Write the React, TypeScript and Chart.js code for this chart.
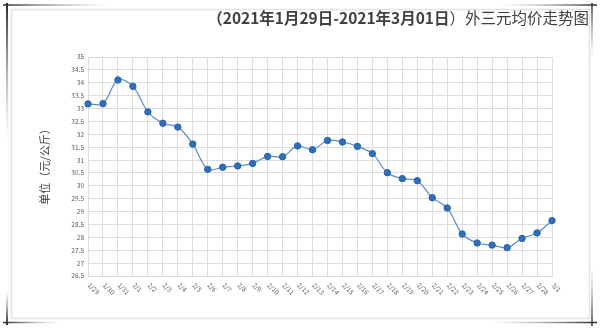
import React, { useEffect, useRef } from "react";
import { Chart, registerables } from "chart.js";

Chart.register(...registerables);

const categories = [
  "1/29", "1/30", "1/31", "2/1", "2/2", "2/3", "2/4", "2/5", "2/6", "2/7", "2/8",
  "2/9", "2/10", "2/11", "2/12", "2/13", "2/14", "2/15", "2/16", "2/17", "2/18",
  "2/19", "2/20", "2/21", "2/22", "2/23", "2/24", "2/25", "2/26", "2/27", "2/28", "3/1",
];

const prices = [
  33.18, 33.19, 34.11, 33.86, 32.87, 32.43, 32.28, 31.62, 30.64, 30.72, 30.77,
  30.87, 31.14, 31.13, 31.55, 31.4, 31.76, 31.7, 31.53, 31.25, 30.51,
  30.28, 30.2, 29.54, 29.14, 28.13, 27.78, 27.7, 27.6, 27.96, 28.17, 28.65,
];

const titleBold = "（2021年1月29日-2021年3月01日";
const titleRegular = "）外三元均价走势图";
const yTitle = "单位（元/公斤）";

const Y_MIN = 26.5;
const Y_MAX = 35;
const Y_STEP = 0.5;

const FONT = '"Noto Sans CJK SC", "Noto Sans", sans-serif';

const decorPlugin = {
  id: "decor",
  beforeDraw(chart: any) {
    const ctx = chart.ctx as CanvasRenderingContext2D;
    ctx.save();
    ctx.fillStyle = "#ffffff";
    ctx.fillRect(0, 0, chart.width, chart.height);
    ctx.strokeStyle = "#e3e3e3";
    ctx.lineWidth = 1.5;
    ctx.strokeRect(11.5, 9.5, 578, 309);

    const line = (x1: number, y1: number, x2: number, y2: number, w: number) => {
      const g = ctx.createLinearGradient(x1, y1, x2, y2);
      g.addColorStop(0, "rgba(40,40,40,1)");
      g.addColorStop(0.35, "rgba(90,90,90,0.7)");
      g.addColorStop(1, "rgba(160,160,160,0)");
      ctx.strokeStyle = g;
      ctx.lineWidth = w;
      ctx.beginPath();
      ctx.moveTo(x1, y1);
      ctx.lineTo(x2, y2);
      ctx.stroke();
    };
    line(3, 5, 110, 5, 1.5);
    line(7, 3, 7, 140, 2);
    line(597, 5, 500, 5, 1.5);
    line(592, 3, 592, 60, 1.5);
    line(3, 322.5, 60, 322.5, 1.5);
    line(7, 325, 7, 290, 2);
    line(597, 322.5, 490, 322.5, 1.5);
    line(592, 326, 592, 265, 1.5);
    ctx.restore();
  },
  afterDraw(chart: any) {
    const ctx = chart.ctx as CanvasRenderingContext2D;
    const xScale = chart.scales.x;
    const area = chart.chartArea;
    ctx.save();
    ctx.textBaseline = "middle";
    ctx.fillStyle = "#404040";
    ctx.font = `15.5px ${FONT}`;
    const wReg = ctx.measureText(titleRegular).width;
    ctx.font = `bold 15.5px ${FONT}`;
    const wBold = ctx.measureText(titleBold).width;
    const right = 589;
    ctx.textAlign = "left";
    ctx.fillText(titleBold, right - wReg - wBold, 18);
    ctx.font = `15.5px ${FONT}`;
    ctx.fillText(titleRegular, right - wReg, 18);

    ctx.save();
    ctx.translate(45, 164);
    ctx.rotate(-Math.PI / 2);
    ctx.textAlign = "center";
    ctx.textBaseline = "middle";
    ctx.font = `11px ${FONT}`;
    ctx.fillStyle = "#404040";
    ctx.fillText(yTitle, 0, 0);
    ctx.restore();

    ctx.font = `6.5px ${FONT}`;
    ctx.fillStyle = "#595959";
    ctx.textAlign = "left";
    ctx.textBaseline = "middle";
    categories.forEach((c, i) => {
      const x = xScale.getPixelForValue(i);
      ctx.save();
      ctx.translate(x + 1, area.bottom + 8);
      ctx.rotate(Math.PI / 4);
      ctx.fillText(c, 0, 0);
      ctx.restore();
    });
    ctx.restore();
  },
};

export default function App() {
  const ref = useRef<HTMLCanvasElement | null>(null);
  useEffect(() => {
    if (!ref.current) return;
    const chart = new Chart(ref.current, {
      type: "line",
      data: {
        labels: categories,
        datasets: [
          {
            data: prices,
            borderColor: "#5a8ccc",
            borderWidth: 1.2,
            backgroundColor: "#2f6eba",
            pointBackgroundColor: "#2f6eba",
            pointBorderColor: "#2a62a8",
            pointBorderWidth: 1,
            pointRadius: 3.2,
            tension: 0.35,
            fill: false,
          },
        ],
      },
      options: {
        animation: false,
        responsive: false,
        maintainAspectRatio: false,
        layout: { padding: { left: 20, top: 57, right: 48, bottom: 52 } },
        plugins: { legend: { display: false }, tooltip: { enabled: false }, title: { display: false } },
        scales: {
          x: {
            offset: false,
            grid: { color: "#dcdcdc", lineWidth: 1, drawTicks: false },
            border: { color: "#dcdcdc" },
            ticks: { display: false },
            afterFit(scale: any) {
              scale.height = 0;
            },
          },
          y: {
            min: Y_MIN,
            max: Y_MAX,
            grid: { color: "#dcdcdc", lineWidth: 1, drawTicks: false },
            border: { color: "#dcdcdc" },
            ticks: {
              stepSize: Y_STEP,
              padding: 4,
              color: "#595959",
              font: { size: 6.5, family: FONT },
              callback: (v: any) => String(Number(v)),
            },
            afterFit(scale: any) {
              scale.width = 68;
            },
          },
        },
      },
      plugins: [decorPlugin],
    });
    return () => chart.destroy();
  }, []);
  return (
    <div style={{ position: "fixed", left: 0, top: 0, width: 600, height: 328 }}>
      <canvas ref={ref} width={600} height={328} style={{ width: 600, height: 328, display: "block" }} />
    </div>
  );
}
